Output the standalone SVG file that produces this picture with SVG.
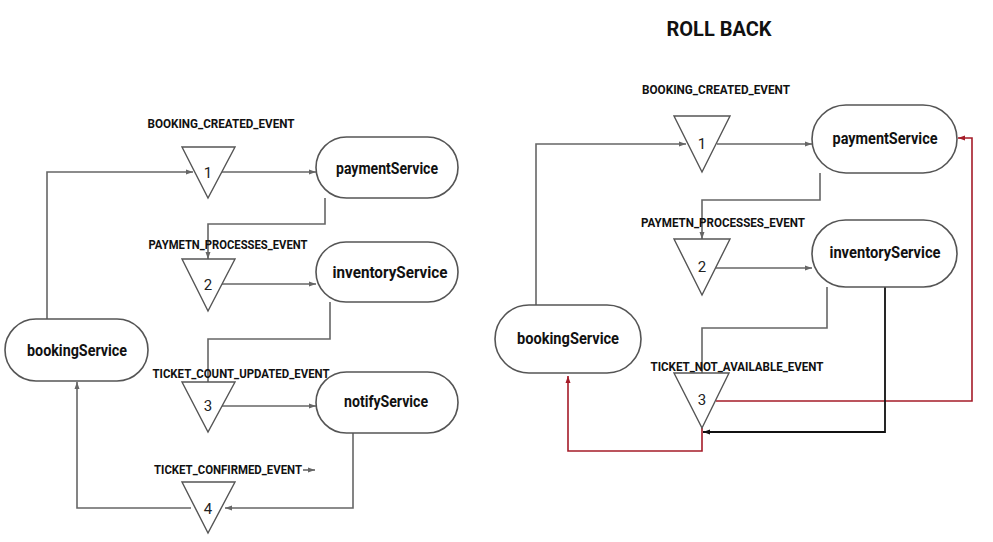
<svg xmlns="http://www.w3.org/2000/svg" width="993" height="542" viewBox="0 0 993 542">
<style>
.node{fill:#fff;stroke:#555;stroke-width:1.6}
.tri{fill:#fff;stroke:#555;stroke-width:1.4}
.lbl{font-family:Roboto,"Liberation Sans",sans-serif;font-weight:bold;font-size:17px;fill:#111;text-anchor:middle}
.ev{font-family:Roboto,"Liberation Sans",sans-serif;font-weight:bold;font-size:12px;fill:#111;text-anchor:middle}
.num{font-family:Roboto,"Liberation Sans",sans-serif;font-size:15px;fill:#222;text-anchor:middle}
.ttl{font-family:Roboto,"Liberation Sans",sans-serif;font-weight:bold;font-size:20px;fill:#111;text-anchor:middle}
.c{fill:none;stroke:#666;stroke-width:1.6}
.r{fill:none;stroke:#a51c28;stroke-width:1.6}
.k{fill:none;stroke:#111;stroke-width:1.8}
</style>
<defs>
<marker id="ag" markerWidth="8" markerHeight="8" refX="7" refY="4" orient="auto" markerUnits="userSpaceOnUse"><path d="M0,1.5 L7,4 L0,6.5 z" fill="#666"/></marker>
<marker id="ar" markerWidth="8" markerHeight="8" refX="7" refY="4" orient="auto" markerUnits="userSpaceOnUse"><path d="M0,1.5 L7,4 L0,6.5 z" fill="#a51c28"/></marker>
<marker id="ak" markerWidth="8" markerHeight="8" refX="7" refY="4" orient="auto" markerUnits="userSpaceOnUse"><path d="M0,1.5 L7,4 L0,6.5 z" fill="#111"/></marker>
</defs>
<rect width="993" height="542" fill="#fff"/>

<g id="connectors">
<path class="c" d="M47,319 V172 H193" marker-end="url(#ag)"/>
<path class="c" d="M222,172 H316" marker-end="url(#ag)"/>
<path class="c" d="M325,198 V224 H208 V259" marker-end="url(#ag)"/>
<path class="c" d="M222,284 H316" marker-end="url(#ag)"/>
<path class="c" d="M330,302 V339 H208 V382"/>
<path class="c" d="M222,406 H316" marker-end="url(#ag)"/>
<path class="c" d="M353,433 V508 H225" marker-end="url(#ag)"/>
<path class="c" d="M191,508 H77 V382" marker-end="url(#ag)"/>
<path class="c" d="M303,470 H315" stroke-width="1" marker-end="url(#ag)"/>
<path class="c" d="M536,305 V144 H686" marker-end="url(#ag)"/>
<path class="c" d="M717,144 H812" marker-end="url(#ag)"/>
<path class="c" d="M820,173 V200 H702 V239" marker-end="url(#ag)"/>
<path class="c" d="M716,268 H812" marker-end="url(#ag)"/>
<path class="c" d="M827,287 V328 H702 V373"/>
<path class="r" d="M716,401 H972 V138 H958" marker-end="url(#ar)"/>
<path class="k" d="M885,287 V432 H703" marker-end="url(#ak)"/>
<path class="r" d="M702,428 V451 H568 V376" marker-end="url(#ar)"/>
</g>

<text class="ttl" x="719" y="36">ROLL BACK</text>

<g id="left-bookingService"><rect class="node" x="5" y="319" width="143" height="62" rx="31"/><text class="lbl" x="77" y="356" textLength="100" lengthAdjust="spacingAndGlyphs">bookingService</text></g>
<g id="left-paymentService"><rect class="node" x="316" y="137" width="142" height="61" rx="30.5"/><text class="lbl" x="387" y="174" textLength="102" lengthAdjust="spacingAndGlyphs">paymentService</text></g>
<g id="left-inventoryService"><rect class="node" x="316" y="242" width="142" height="60" rx="30"/><text class="lbl" x="390" y="278" textLength="115" lengthAdjust="spacingAndGlyphs">inventoryService</text></g>
<g id="left-notifyService"><rect class="node" x="316" y="372" width="142" height="61" rx="30.5"/><text class="lbl" x="386" y="407" textLength="84" lengthAdjust="spacingAndGlyphs">notifyService</text></g>

<g id="left-event1"><path class="tri" d="M182,147 H235 L208,198 Z"/><text class="num" x="208" y="178">1</text><text class="ev" x="221" y="128" textLength="147" lengthAdjust="spacingAndGlyphs">BOOKING_CREATED_EVENT</text></g>
<g id="left-event2"><path class="tri" d="M182,259 H235 L208,311 Z"/><text class="num" x="208" y="290">2</text><text class="ev" x="228" y="249" textLength="159" lengthAdjust="spacingAndGlyphs">PAYMETN_PROCESSES_EVENT</text></g>
<g id="left-event3"><path class="tri" d="M182,382 H235 L208,432 Z"/><text class="num" x="208" y="411">3</text><text class="ev" x="241" y="378" textLength="177" lengthAdjust="spacingAndGlyphs">TICKET_COUNT_UPDATED_EVENT</text></g>
<g id="left-event4"><path class="tri" d="M182,482 H235 L208,533 Z"/><text class="num" x="208" y="514">4</text><text class="ev" x="228" y="474" textLength="148" lengthAdjust="spacingAndGlyphs">TICKET_CONFIRMED_EVENT</text></g>

<g id="right-bookingService"><rect class="node" x="495" y="305" width="146" height="68" rx="34"/><text class="lbl" x="568" y="344" textLength="102" lengthAdjust="spacingAndGlyphs">bookingService</text></g>
<g id="right-paymentService"><rect class="node" x="812" y="105" width="145" height="68" rx="34"/><text class="lbl" x="885" y="144" textLength="105" lengthAdjust="spacingAndGlyphs">paymentService</text></g>
<g id="right-inventoryService"><rect class="node" x="812" y="220" width="145" height="67" rx="33.5"/><text class="lbl" x="885" y="258" textLength="111" lengthAdjust="spacingAndGlyphs">inventoryService</text></g>

<g id="right-event1"><path class="tri" d="M674,116 H730 L702,172 Z"/><text class="num" x="702" y="149">1</text><text class="ev" x="716" y="94" textLength="148" lengthAdjust="spacingAndGlyphs">BOOKING_CREATED_EVENT</text></g>
<g id="right-event2"><path class="tri" d="M674,239 H730 L702,295 Z"/><text class="num" x="702" y="272">2</text><text class="ev" x="723" y="227" textLength="164" lengthAdjust="spacingAndGlyphs">PAYMETN_PROCESSES_EVENT</text></g>
<g id="right-event3"><path class="tri" d="M674,373 H729 L702,428 Z"/><text class="num" x="702" y="405">3</text><text class="ev" x="737" y="371" textLength="173" lengthAdjust="spacingAndGlyphs">TICKET_NOT_AVAILABLE_EVENT</text></g>
</svg>
